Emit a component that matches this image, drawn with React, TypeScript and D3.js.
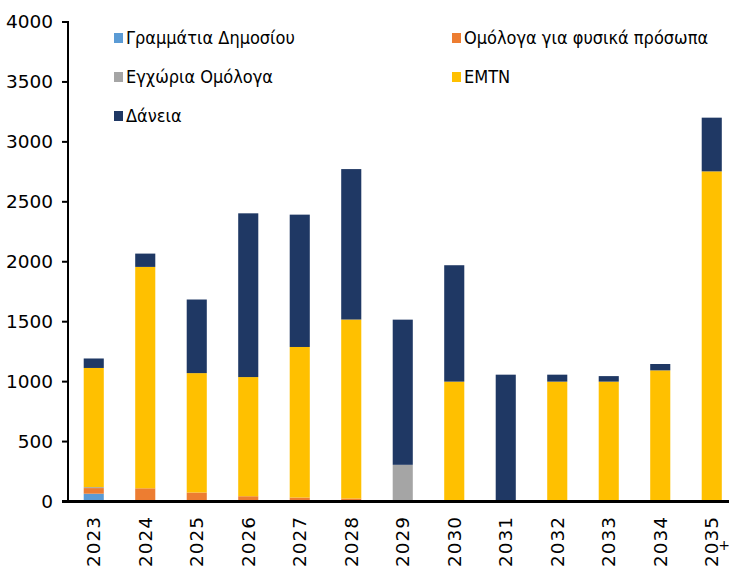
import React from "react";
import * as d3 from "d3";

const years = ["2023", "2024", "2025", "2026", "2027", "2028", "2029", "2030", "2031", "2032", "2033", "2034", "2035"];
const seriesNames = ["Γραμμάτια Δημοσίου", "Ομόλογα για φυσικά πρόσωπα", "Εγχώρια Ομόλογα", "EMTN", "Δάνεια"];
const tbills = [65, 0, 0, 0, 0, 0, 0, 0, 0, 0, 0, 0, 0];
const retailBonds = [47, 110, 75, 44, 33, 25, 0, 0, 0, 0, 0, 0, 0];
const domesticBonds = [8, 0, 0, 0, 0, 0, 306, 0, 0, 0, 0, 0, 0];
const emtn = [994, 1847, 996, 994, 1256, 1493, 0, 1000, 0, 1000, 1000, 1094, 2754];
const loans = [79, 111, 614, 1366, 1104, 1255, 1211, 971, 1058, 58, 46, 53, 448];
const yTicks = [0, 500, 1000, 1500, 2000, 2500, 3000, 3500, 4000];
const colors = ["#5B9BD5", "#ED7D31", "#A5A5A5", "#FFC000", "#1F3864"];

const W = 729;
const H = 570;
const FONT = "'DejaVu Sans', Verdana, sans-serif";
const LFONT = "'DejaVu Sans Condensed', 'DejaVu Sans', sans-serif";

export default function App() {
  const x = d3.scaleBand<string>().domain(years).range([68, 737.5]).paddingInner(0.61).paddingOuter(0.305);
  const y = d3.scaleLinear().domain([0, 4000]).range([501.5, 22]);
  const seriesData = [tbills, retailBonds, domesticBonds, emtn, loans];
  const table = years.map((yr, i) => {
    const row: any = { year: yr };
    seriesNames.forEach((n, k) => (row[n] = seriesData[k][i]));
    return row;
  });
  const stacked = d3.stack<any>().keys(seriesNames)(table);

  const legendItems = [
    { name: seriesNames[0], x: 114, y: 38, c: colors[0] },
    { name: seriesNames[1], x: 452, y: 38, c: colors[1] },
    { name: seriesNames[2], x: 114, y: 77, c: colors[2] },
    { name: seriesNames[3], x: 452, y: 77, c: colors[3] },
    { name: seriesNames[4], x: 114, y: 116, c: colors[4] },
  ];

  return (
    <svg width={W} height={H} style={{ position: "absolute", left: 0, top: 0, background: "#fff" }}>
      {stacked.map((s, k) => (
        <g key={k} fill={colors[k]}>
          {s.map((d, i) =>
            d[1] - d[0] > 0 ? (
              <rect
                key={i}
                x={x(years[i])}
                width={x.bandwidth()}
                y={y(d[1])}
                height={y(d[0]) - y(d[1])}
              />
            ) : null
          )}
        </g>
      ))}
      {/* Y axis */}
      <line x1={68} x2={68} y1={21} y2={502} stroke="#000" strokeWidth={2} />
      {yTicks.map((t) => (
        <g key={t}>
          <line x1={62} x2={68} y1={y(t)} y2={y(t)} stroke="#000" strokeWidth={2} />
          <text x={53} y={y(t)} dy="0.35em" textAnchor="end" fontFamily={FONT} fontSize={18.5} fill="#000">
            {t}
          </text>
        </g>
      ))}
      {/* X axis */}
      <line x1={62} x2={729} y1={501.5} y2={501.5} stroke="#000" strokeWidth={3} />
      {years.map((yr) => {
        const cx = (x(yr) as number) + x.bandwidth() / 2;
        return (
          <text
            key={yr}
            transform={`translate(${cx},516) rotate(-90)`}
            textAnchor="end"
            dy="0.35em"
            fontFamily={FONT}
            fontSize={18.5}
            letterSpacing={1}
            fill="#000"
          >
            {yr}
          </text>
        );
      })}
      <text x={724} y={545} textAnchor="middle" dy="0.35em" fontFamily={FONT} fontSize={14} fill="#000">
        +
      </text>
      {/* Legend */}
      {legendItems.map((l) => (
        <g key={l.name}>
          <rect x={l.x} y={l.y - 5} width={9} height={10} fill={l.c} />
          <text x={l.x + 12} y={l.y} dy="0.35em" fontFamily={LFONT} fontSize={18} fill="#000">
            {l.name}
          </text>
        </g>
      ))}
    </svg>
  );
}
